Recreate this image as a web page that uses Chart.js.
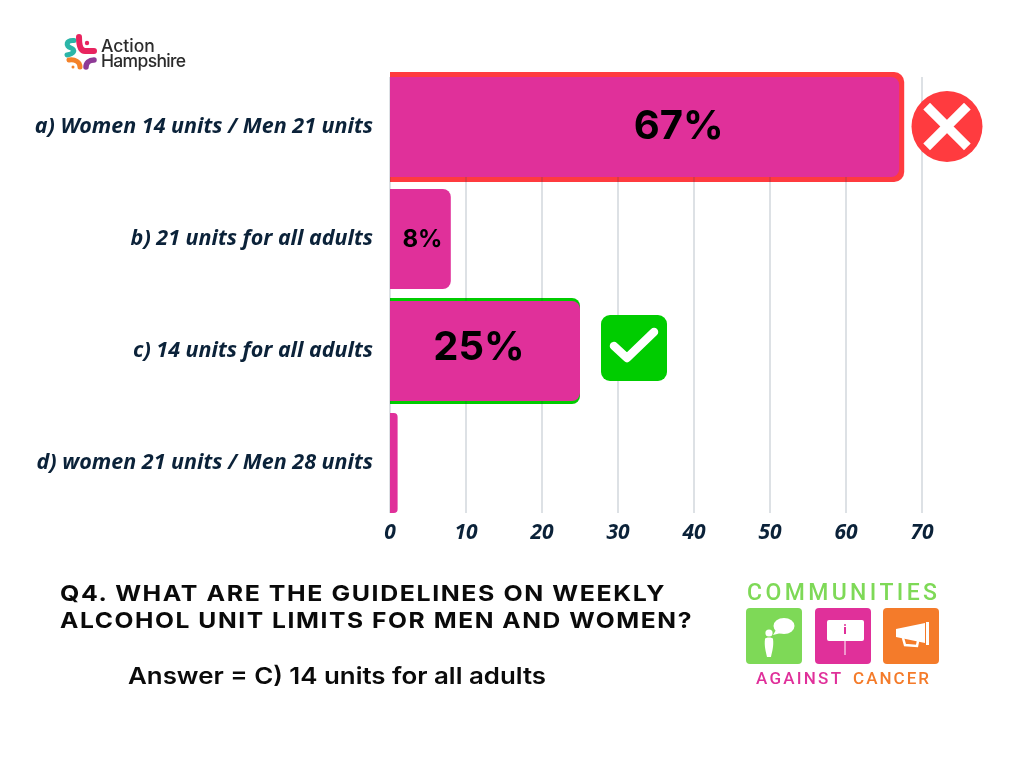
<!DOCTYPE html>
<html>
<head>
<meta charset="utf-8">
<title>Q4 alcohol unit limits</title>
<script src="https://cdn.jsdelivr.net/npm/chart.js@4"></script>
<style>
html, body { margin: 0; padding: 0; background: #fff; overflow: hidden; }
#wrap { position: relative; width: 1024px; height: 768px; }
#myChart { position: absolute; left: 0; top: 0; }
#art { position: absolute; left: 0; top: 0; }
.q { font: 700 22px Inter, sans-serif; letter-spacing: 1.4px; fill: #0a0a0a; }
.ans { font: 600 23.5px Inter, sans-serif; fill: #0a0a0a; }
.logo1 { font: 500 17.5px Inter, sans-serif; fill: #2b2b2b; }
.ca { font: 500 23px Roboto, sans-serif; fill: #7ed957; }
.cb { font: 500 17px Roboto, sans-serif; }
</style>
</head>
<body>
<div id="wrap">
<canvas id="myChart" width="1024" height="768"></canvas>
<svg id="art" width="1024" height="768" viewBox="0 0 1024 768">
  <!-- action hampshire logo -->
  <g fill="none" stroke-linecap="round">
    <path d="M74 40.5 C66 40 65 46 71 48 C76 50 74 54 67 55" stroke="#2bb5a8" stroke-width="5"/>
    <path d="M79 37 C79 44 80 51 85 51 L94 51" stroke="#e8245f" stroke-width="6"/>
    <path d="M69 60 C75 59 80 62 80 67" stroke="#f4822a" stroke-width="5"/>
    <path d="M94 60 C89 60 86 63 86 67" stroke="#8e3a96" stroke-width="5.5"/>
  </g>
  <circle cx="87" cy="43" r="2.2" fill="#e8245f"/>
  <circle cx="73" cy="67" r="1.5" fill="#f4822a"/>
  <text class="logo1" x="101" y="52">Action</text>
  <text class="logo1" x="101" y="67" textLength="85">Hampshire</text>

  <!-- wrong answer icon -->
  <circle cx="947" cy="126.5" r="35.5" fill="#ff3b3f"/>
  <path d="M930 109.5 L964 143.5 M964 109.5 L930 143.5" stroke="#fff" stroke-width="9.5" stroke-linecap="square" fill="none"/>

  <!-- right answer icon -->
  <rect x="601" y="315" width="66" height="66" rx="9" fill="#00cc00"/>
  <path d="M614 346 L627 358 L654 332" stroke="#fff" stroke-width="8.5" stroke-linecap="round" stroke-linejoin="round" fill="none"/>

  <!-- question text -->
  <text class="q" x="60" y="601" textLength="606" lengthAdjust="spacingAndGlyphs">Q4. WHAT ARE THE GUIDELINES ON WEEKLY</text>
  <text class="q" x="60" y="628" textLength="633" lengthAdjust="spacingAndGlyphs">ALCOHOL UNIT LIMITS FOR MEN AND WOMEN?</text>
  <text class="ans" x="128" y="684" textLength="418" lengthAdjust="spacingAndGlyphs">Answer = C) 14 units for all adults</text>

  <!-- communities against cancer logo -->
  <text class="ca" x="747" y="600" textLength="190">COMMUNITIES</text>
  <rect x="746" y="608" width="56" height="56" rx="4" fill="#7ed957"/>
  <rect x="815" y="608" width="56" height="56" rx="4" fill="#e0309a"/>
  <rect x="883" y="608" width="56" height="56" rx="4" fill="#f47b2a"/>
  <circle cx="769" cy="633" r="3.6" fill="#fff"/>
  <path d="M765 639 C765 637 773 637 773 639 C774 646 772 652 771 657 L767 657 C766 652 764 646 765 639Z" fill="#fff"/>
  <ellipse cx="784" cy="626" rx="10.5" ry="8" fill="#fff"/>
  <path d="M776 630 L773 635 L781 633Z" fill="#fff"/>
  <rect x="827" y="620" width="37" height="21" rx="2" fill="#fff"/>
  <path d="M845 641 V655" stroke="#fff" stroke-width="1"/>
  <path d="M845 627 V634" stroke="#e0309a" stroke-width="2"/>
  <circle cx="845" cy="625" r="1" fill="#e0309a"/>
  <path d="M896 629 L925 623 V643 L896 637Z" fill="#fff"/>
  <rect x="926" y="622" width="3" height="23" fill="#fff"/>
  <path d="M903 638 L905 645 L917 646 L918 641" stroke="#fff" stroke-width="2.5" fill="none"/>
  <text class="cb" x="756" y="684" textLength="85" fill="#e0309a">AGAINST</text>
  <text class="cb" x="853" y="684" textLength="76" fill="#f47b2a">CANCER</text>
</svg>
</div>
<script>
//chart data
const answers = ['a) Women 14 units / Men 21 units', 'b) 21 units for all adults', 'c) 14 units for all adults', 'd) women 21 units / Men 28 units'];
const percents = [67, 8, 25, 1];
const percentLabels = ['67%', '8%', '25%', ''];
const xTicks = [0, 10, 20, 30, 40, 50, 60, 70];

//colors
const pink = '#e0309a';
const red = '#ff3b3f';
const green = '#00cc00';
const ink = '#0b2239';

//outline behind the highlighted bars, grid on top of it, bars on top of that
const backdrop = {
    id: 'backdrop',
    beforeDatasetsDraw(chart) {
        const ctx = chart.ctx;
        const bars = chart.getDatasetMeta(0).data;
        const area = chart.chartArea;

        ctx.save();
        outline(ctx, bars[0], 5, 5, red, 10);
        outline(ctx, bars[2], 3, 0, green, 8);

        //grid stops short of the outer band edges
        ctx.strokeStyle = 'rgba(30, 55, 85, 0.2)';
        ctx.lineWidth = 1.5;
        for (let t of xTicks) {
            let x = chart.scales.x.getPixelForValue(t);
            ctx.beginPath();
            ctx.moveTo(x, area.top + 6);
            ctx.lineTo(x, area.bottom - 6);
            ctx.stroke();
        }
        ctx.restore();
    }
};

function outline(ctx, bar, pad, padRight, color, radius) {
    let h = bar.height + pad * 2;
    ctx.fillStyle = color;
    ctx.beginPath();
    ctx.roundRect(bar.base, bar.y - h / 2, bar.x - bar.base + padRight, h, [0, radius, radius, 0]);
    ctx.fill();
}

//percent text inside the bars
const valueLabels = {
    id: 'valueLabels',
    afterDatasetsDraw(chart) {
        const ctx = chart.ctx;
        const bars = chart.getDatasetMeta(0).data;
        const big = 'bold 40px Inter, sans-serif';
        const styles = [
            { font: big, dx: 34, dy: 0 },
            { font: 'bold 24px Inter, sans-serif', dx: 2, dy: 1 },
            { font: big, dx: -6, dy: -3 },
            { font: big, dx: 0, dy: 0 }
        ];
        ctx.save();
        ctx.fillStyle = '#000';
        ctx.textAlign = 'center';
        ctx.textBaseline = 'middle';
        percentLabels.forEach((txt, i) => {
            let bar = bars[i];
            ctx.font = styles[i].font;
            ctx.fillText(txt, (bar.base + bar.x) / 2 + styles[i].dx, bar.y + styles[i].dy);
        });
        ctx.restore();
    }
};

const config = {
    type: 'bar',
    data: {
        labels: answers,
        datasets: [{
            data: percents,
            backgroundColor: pink,
            barPercentage: 1,
            categoryPercentage: 100 / 112,
            borderRadius: { topRight: 8, bottomRight: 8, topLeft: 0, bottomLeft: 0 },
            borderSkipped: false
        }]
    },
    options: {
        indexAxis: 'y',
        responsive: false,
        animation: false,
        devicePixelRatio: 1,
        layout: { padding: { left: 0, right: 102, top: 71, bottom: 0 } },
        plugins: {
            legend: { display: false },
            title: { display: false },
            tooltip: { enabled: false }
        },
        scales: {
            x: {
                min: 0,
                max: 70,
                border: { display: false },
                grid: { display: false, drawTicks: false },
                afterFit: s => { s.height = 249; },
                afterBuildTicks: s => { s.ticks = xTicks.map(v => ({ value: v })); },
                ticks: {
                    color: ink,
                    padding: 1,
                    maxRotation: 0,
                    font: { family: '"Noto Sans"', size: 21, weight: '700', style: 'italic' }
                }
            },
            y: {
                border: { display: false },
                grid: { display: false, drawTicks: false },
                afterFit: s => { s.width = 390; },
                ticks: {
                    color: ink,
                    padding: 17,
                    font: { family: '"Noto Sans"', size: 21.5, weight: '700', style: 'italic' }
                }
            }
        }
    },
    plugins: [backdrop, valueLabels]
};

const ctx = document.getElementById('myChart').getContext('2d');
const myChart = new Chart(ctx, config);
</script>
</body>
</html>
